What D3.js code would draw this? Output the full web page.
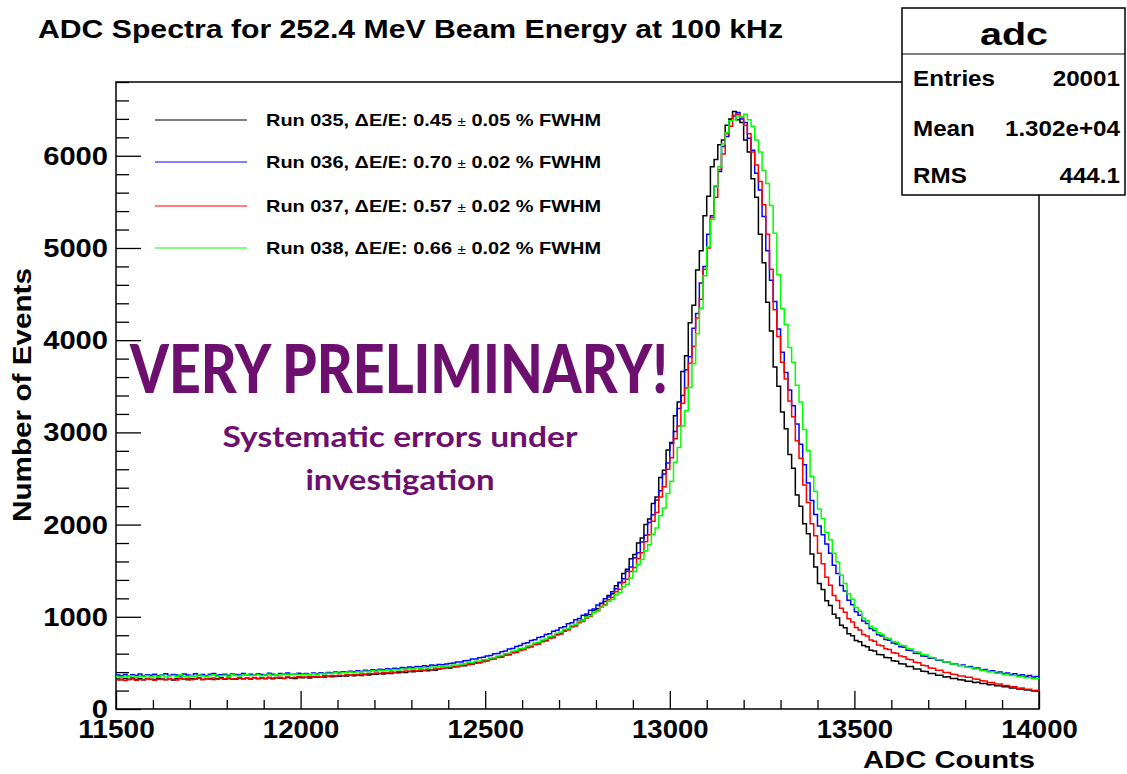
<!DOCTYPE html>
<html>
<head>
<meta charset="utf-8">
<script src="https://cdn.jsdelivr.net/npm/d3@7"></script>
<style>
  body { margin: 0; background: #fff; }
  text { font-family: "Liberation Sans", Arial, Helvetica, sans-serif; font-weight: bold; }
</style>
</head>
<body>
<script>
// Histogram binning (lower bin edges start here)
const binStart = 11500, binWidth = 10, binEnd = 14000;

// Run 035 (black)
const run035 = [
  325, 318, 330, 322, 335, 320, 328, 316, 331, 324,
  319, 333, 326, 321, 329, 315, 327, 334, 322, 318,
  330, 325, 336, 321, 328, 332, 319, 327, 338, 324,
  331, 326, 322, 337, 329, 333, 325, 340, 328, 335,
  331, 339, 327, 342, 334, 330, 345, 336, 332, 341,
  338, 345, 336, 349, 343, 351, 347, 355, 350, 358,
  354, 361, 357, 366, 360, 369, 364, 373, 368, 378,
  376, 384, 380, 389, 385, 395, 392, 400, 396, 407,
  403, 413, 409, 418, 414, 425, 421, 433, 440, 450,
  446, 461, 458, 473, 470, 488, 486, 503, 502, 521,
  526, 542, 547, 566, 568, 590, 593, 618, 620, 646,
  650, 674, 680, 706, 711, 738, 746, 774, 782, 812,
  820, 855, 865, 900, 912, 952, 966, 1010, 1022, 1072,
  1088, 1145, 1165, 1230, 1250, 1338, 1372, 1470, 1515, 1630,
  1675, 1800, 1855, 2000, 2060, 2230, 2300, 2510, 2590, 2810,
  2890, 3180, 3330, 3660, 3830, 4190, 4380, 4760, 4970, 5350,
  5560, 5880, 5960, 6120, 6170, 6330, 6400, 6480, 6390, 6360,
  6170, 6040, 5750, 5550, 5150, 4840, 4410, 4100, 3710, 3500,
  3220, 3040, 2760, 2610, 2320, 2200, 2010, 1900, 1680, 1540,
  1360, 1295, 1175, 1122, 1028, 988, 908, 880, 815, 795,
  742, 728, 688, 676, 638, 628, 590, 588, 558, 555,
  522, 518, 491, 488, 461, 460, 434, 433, 409, 407,
  385, 384, 367, 366, 347, 349, 331, 332, 316, 315,
  301, 301, 288, 289, 276, 276, 263, 265, 252, 253,
  241, 240, 228, 228, 217, 216, 205, 205, 195, 193
];

// Run 036 (blue)
const run036 = [
  368, 360, 375, 356, 371, 364, 380, 359, 372, 366,
  377, 361, 369, 383, 362, 374, 368, 357, 379, 370,
  364, 381, 367, 373, 359, 376, 385, 366, 371, 378,
  362, 380, 374, 368, 386, 371, 377, 365, 383, 375,
  370, 388, 378, 372, 384, 376, 391, 373, 380, 387,
  378, 384, 375, 390, 382, 393, 386, 397, 390, 401,
  395, 405, 399, 410, 403, 414, 408, 420, 413, 425,
  419, 430, 425, 436, 431, 442, 437, 449, 444, 455,
  450, 462, 457, 469, 464, 476, 471, 483, 480, 488,
  494, 498, 509, 511, 524, 525, 541, 542, 557, 560,
  575, 580, 599, 603, 622, 630, 650, 657, 679, 688,
  710, 719, 742, 751, 775, 783, 807, 817, 843, 854,
  882, 892, 924, 936, 968, 982, 1017, 1031, 1070, 1085,
  1128, 1147, 1195, 1216, 1272, 1303, 1373, 1412, 1494, 1541,
  1640, 1695, 1812, 1884, 2024, 2108, 2266, 2368, 2548, 2668,
  2880, 3010, 3260, 3400, 3680, 3820, 4130, 4290, 4620, 4800,
  5150, 5350, 5670, 5830, 6100, 6210, 6390, 6430, 6470, 6400,
  6360, 6190, 6060, 5810, 5630, 5340, 4970, 4650, 4420, 4120,
  3870, 3650, 3460, 3290, 3090, 2870, 2650, 2450, 2260, 2110,
  1985, 1890, 1790, 1690, 1560, 1470, 1340, 1280, 1180, 1130,
  1055, 1018, 955, 928, 872, 851, 806, 792, 753, 746,
  716, 706, 674, 669, 638, 634, 605, 602, 575, 573,
  551, 550, 529, 530, 508, 510, 489, 492, 472, 476,
  456, 461, 441, 446, 424, 428, 409, 414, 395, 401,
  384, 391, 374, 381, 364, 372, 356, 363, 346, 352
];

// Run 037 (red)
const run037 = [
  315, 322, 310, 318, 326, 313, 320, 316, 328, 319,
  312, 324, 321, 317, 330, 322, 314, 327, 323, 331,
  318, 326, 333, 320, 329, 324, 336, 322, 330, 327,
  335, 325, 332, 338, 328, 334, 330, 341, 333, 337,
  329, 343, 336, 340, 345, 333, 348, 339, 344, 350,
  347, 342, 352, 348, 356, 351, 360, 355, 363, 358,
  366, 362, 371, 366, 375, 370, 380, 377, 385, 381,
  390, 386, 395, 392, 401, 397, 407, 403, 412, 409,
  418, 414, 424, 420, 430, 427, 436, 433, 442, 447,
  452, 456, 463, 468, 476, 481, 489, 496, 504, 513,
  520, 536, 541, 558, 562, 582, 586, 607, 613, 635,
  642, 664, 672, 696, 704, 729, 738, 765, 774, 803,
  814, 843, 856, 888, 901, 936, 950, 988, 1004, 1046,
  1066, 1112, 1134, 1186, 1210, 1272, 1300, 1374, 1406, 1490,
  1535, 1632, 1694, 1815, 1890, 2036, 2130, 2298, 2410, 2600,
  2725, 2930, 3070, 3315, 3480, 3750, 3935, 4240, 4445, 4770,
  5000, 5330, 5550, 5850, 6020, 6240, 6320, 6440, 6450, 6420,
  6330, 6240, 6040, 5900, 5720, 5470, 5150, 4770, 4330, 4040,
  3760, 3580, 3340, 3170, 2910, 2720, 2430, 2240, 2010, 1880,
  1690, 1575, 1430, 1342, 1232, 1176, 1092, 1050, 978, 944,
  884, 858, 808, 793, 748, 735, 694, 685, 654, 646,
  610, 604, 574, 568, 540, 534, 506, 502, 475, 470,
  446, 443, 421, 419, 397, 395, 376, 374, 358, 359,
  344, 344, 326, 324, 306, 304, 288, 288, 272, 272,
  256, 256, 241, 242, 226, 228, 213, 215, 201, 202
];

// Run 038 (green)
const run038 = [
  352, 345, 358, 349, 361, 343, 355, 350, 364, 347,
  357, 353, 366, 348, 359, 362, 351, 368, 356, 346,
  360, 354, 369, 358, 350, 363, 371, 355, 361, 367,
  352, 372, 364, 358, 369, 375, 362, 366, 373, 360,
  370, 377, 365, 374, 368, 380, 371, 376, 383, 372,
  371, 378, 373, 382, 376, 385, 380, 389, 384, 393,
  388, 397, 392, 401, 396, 405, 400, 410, 405, 414,
  409, 419, 414, 424, 419, 429, 424, 434, 430, 439,
  435, 445, 440, 450, 446, 455, 451, 461, 458, 465,
  466, 476, 478, 489, 490, 503, 504, 517, 520, 533,
  538, 553, 557, 575, 580, 599, 605, 625, 633, 653,
  662, 684, 692, 716, 724, 749, 758, 784, 795, 822,
  834, 862, 874, 905, 917, 950, 963, 998, 1011, 1049,
  1064, 1104, 1122, 1166, 1188, 1240, 1264, 1325, 1354, 1422,
  1492, 1570, 1622, 1716, 1780, 1894, 1962, 2096, 2180, 2338,
  2470, 2675, 2835, 3070, 3235, 3490, 3745, 4070, 4345, 4700,
  5010, 5310, 5660, 5880, 6130, 6250, 6380, 6390, 6430, 6420,
  6450, 6390, 6320, 6170, 6040, 5840, 5700, 5460, 5160, 4710,
  4340, 4170, 3920, 3760, 3510, 3330, 3030, 2800, 2520, 2360,
  2170, 2065, 1915, 1835, 1690, 1595, 1450, 1362, 1250, 1190,
  1102, 1060, 988, 958, 898, 875, 828, 812, 774, 764,
  732, 724, 692, 686, 656, 651, 622, 618, 590, 586,
  560, 557, 535, 533, 511, 510, 489, 489, 469, 470,
  452, 451, 434, 434, 418, 418, 402, 403, 388, 389,
  374, 376, 362, 364, 350, 352, 338, 340, 327, 329
];

// Legend / series labels
const runNames = ["Run 035", "Run 036", "Run 037", "Run 038"];
const runRes   = ["0.45", "0.70", "0.57", "0.66"];
const runErr   = ["0.05", "0.02", "0.02", "0.02"];
const runColors = ["#000000", "#0000ff", "#ff0000", "#00ff00"];
const runValues = [run035, run036, run037, run038];

// Axis ticks
const xTicks = [11500, 12000, 12500, 13000, 13500, 14000];
const yTicks = [0, 1000, 2000, 3000, 4000, 5000, 6000];

// Stats box
const statLabels = ["Entries", "Mean", "RMS"];
const statValues = ["20001", "1.302e+04", "444.1"];

/* ---------------- drawing ---------------- */
const W = 1127, H = 774;
const plotLeft = 116, plotRight = 1039, plotTop = 82, plotBottom = 709;

const svg = d3.select("body").append("svg")
    .attr("width", W).attr("height", H)
    .style("background", "#fff");

const x = d3.scaleLinear().domain([binStart, binEnd]).range([plotLeft, plotRight]);
const y = d3.scaleLinear().domain([0, 6800]).range([plotBottom, plotTop]);

// squeeze/stretch a text element to a given pixel width
function fitWidth(sel, w) {
    sel.attr("textLength", w).attr("lengthAdjust", "spacingAndGlyphs");
}

// Title
svg.append("text")
    .attr("x", 38).attr("y", 38)
    .style("font-size", "25px")
    .text("ADC Spectra for 252.4 MeV Beam Energy at 100 kHz")
    .call(fitWidth, 745);

// Frame
svg.append("rect")
    .attr("x", plotLeft).attr("y", plotTop)
    .attr("width", plotRight - plotLeft).attr("height", plotBottom - plotTop)
    .attr("fill", "none").attr("stroke", "#000").attr("stroke-width", 1.5);

// Axes: major + minor ticks pointing inwards
const xMinor = d3.range(binStart, binEnd + 1, 100).filter(d => xTicks.indexOf(d) < 0);
const yMinor = d3.range(0, 6801, 200).filter(d => yTicks.indexOf(d) < 0);

const gx = svg.append("g").attr("transform", "translate(0," + plotBottom + ")")
    .call(d3.axisBottom(x).tickValues(xTicks).tickSize(-18).tickFormat(d3.format("d")));
gx.append("g").call(d3.axisBottom(x).tickValues(xMinor).tickSize(-9).tickFormat(""));
gx.selectAll(".domain").remove();
gx.selectAll("line").attr("stroke", "#000").attr("stroke-width", 1.3);
gx.selectAll("text")
    .attr("y", 29).attr("dy", null)
    .attr("fill", "#000")
    .style("font-size", "25px")
    .each(function() { fitWidth(d3.select(this), 15.3 * this.textContent.length); });

const gy = svg.append("g").attr("transform", "translate(" + plotLeft + ",0)")
    .call(d3.axisLeft(y).tickValues(yTicks).tickSize(-25).tickPadding(8).tickFormat(d3.format("d")));
gy.append("g").call(d3.axisLeft(y).tickValues(yMinor).tickSize(-13).tickFormat(""));
gy.selectAll(".domain").remove();
gy.selectAll("line").attr("stroke", "#000").attr("stroke-width", 1.3);
gy.selectAll("text")
    .attr("x", -8).attr("dy", "0.34em")
    .attr("fill", "#000")
    .style("font-size", "25px")
    .each(function() { fitWidth(d3.select(this), 16.2 * this.textContent.length); });

// Axis titles
svg.append("text")
    .attr("x", 1035).attr("y", 768)
    .attr("text-anchor", "end")
    .style("font-size", "24px")
    .text("ADC Counts")
    .call(fitWidth, 172);

svg.append("text")
    .attr("transform", "translate(31,395) rotate(-90)")
    .attr("text-anchor", "middle")
    .style("font-size", "26px")
    .text("Number of Events")
    .call(fitWidth, 254);

// Watermark
const purple = "#6d0f6e";
svg.append("text")
    .attr("x", 130).attr("y", 393)
    .attr("fill", purple)
    .style("font-family", "Lato, 'Open Sans', sans-serif")
    .style("font-weight", 900)
    .style("font-size", "66px")
    .text("VERY PRELIMINARY!")
    .call(fitWidth, 538);

svg.append("text")
    .attr("x", 400).attr("y", 447)
    .attr("text-anchor", "middle")
    .attr("fill", purple)
    .style("font-family", "Lato, 'Open Sans', sans-serif")
    .style("font-size", "28px")
    .text("Systematic errors under")
    .call(fitWidth, 355);

svg.append("text")
    .attr("x", 400).attr("y", 490)
    .attr("text-anchor", "middle")
    .attr("fill", purple)
    .style("font-family", "Lato, 'Open Sans', sans-serif")
    .style("font-size", "28px")
    .text("investigation")
    .call(fitWidth, 189);

// Histograms as step lines
const line = d3.line()
    .x(d => x(d[0]))
    .y(d => y(d[1]))
    .curve(d3.curveStepAfter);

runValues.forEach(function(vals, k) {
    const pts = vals.map((v, i) => [binStart + i * binWidth, v]);
    pts.push([binEnd, vals[vals.length - 1]]);
    svg.append("path")
        .datum(pts)
        .attr("fill", "none")
        .attr("stroke", runColors[k])
        .attr("stroke-width", 1.5)
        .attr("d", line);
});

// Legend
const legY = [120, 162, 206, 248];
runNames.forEach(function(name, k) {
    svg.append("line")
        .attr("x1", 155).attr("x2", 247)
        .attr("y1", legY[k]).attr("y2", legY[k])
        .attr("stroke", runColors[k]).attr("stroke-width", 1.2);
    const t = svg.append("text")
        .attr("x", 266).attr("y", legY[k] + 6)
        .style("font-size", "17px");
    t.append("tspan").text(name + ", \u0394E/E: " + runRes[k] + " ");
    t.append("tspan").style("font-size", "13px").style("font-weight", "normal").text("\u00b1");
    t.append("tspan").text(" " + runErr[k] + " % FWHM");
    t.call(fitWidth, 335);
});

// Stats box
svg.append("rect")
    .attr("x", 902).attr("y", 8)
    .attr("width", 223).attr("height", 187)
    .attr("fill", "#fff").attr("stroke", "#000").attr("stroke-width", 1.5);
svg.append("line")
    .attr("x1", 902).attr("x2", 1125).attr("y1", 54).attr("y2", 54)
    .attr("stroke", "#000").attr("stroke-width", 1.2);
svg.append("text")
    .attr("x", 1014).attr("y", 45)
    .attr("text-anchor", "middle")
    .style("font-size", "32px")
    .text("adc")
    .call(fitWidth, 68);

const statY = [86, 136, 183];
statLabels.forEach(function(lab, k) {
    svg.append("text")
        .attr("x", 913).attr("y", statY[k])
        .style("font-size", "22px")
        .text(lab)
        .each(function() { fitWidth(d3.select(this), this.getComputedTextLength() * 1.1); });
    svg.append("text")
        .attr("x", 1120).attr("y", statY[k])
        .attr("text-anchor", "end")
        .style("font-size", "22px")
        .text(statValues[k])
        .each(function() { fitWidth(d3.select(this), this.getComputedTextLength() * 1.1); });
});
</script>
</body>
</html>
